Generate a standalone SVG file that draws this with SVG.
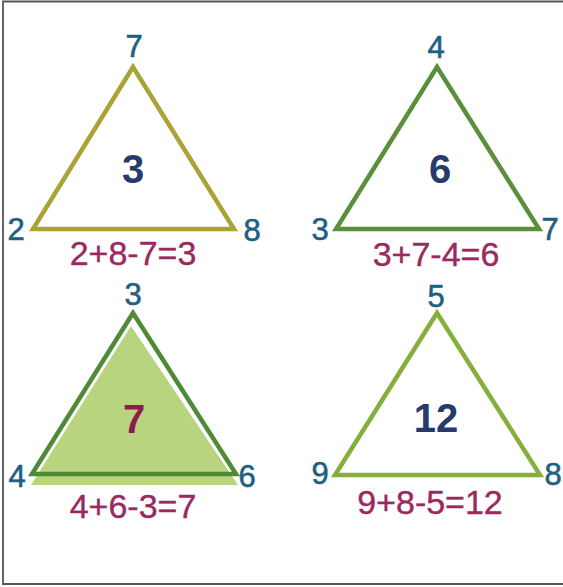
<svg xmlns="http://www.w3.org/2000/svg" width="563" height="587" viewBox="0 0 563 587">
<style>
.v{font-family:"Liberation Sans",Arial,sans-serif;font-size:31px;fill:#1f5f82;stroke:#1f5f82;stroke-width:0.6;text-anchor:middle}
.c{font-family:"Liberation Sans",Arial,sans-serif;font-size:40px;font-weight:bold;fill:#263a6c;text-anchor:middle}
.f{font-family:"Liberation Sans",Arial,sans-serif;font-size:34px;fill:#9a2a5e;stroke:#9a2a5e;stroke-width:0.4;text-anchor:middle}
.t{fill:none;stroke-width:4.5;stroke-linejoin:miter}
</style>
<rect width="563" height="587" fill="#ffffff"/>
<path d="M570,1.5 H3 V584 H570" fill="none" stroke="#555" stroke-width="1.8"/>
<g id="t1">
<polygon class="t" points="133,67 33,229 234,229" stroke="#aaa335"/>
<text class="v" x="134" y="57">7</text>
<text class="v" x="16" y="240">2</text>
<text class="v" x="252" y="241">8</text>
<text class="c" x="133" y="183">3</text>
<text class="f" x="133" y="265">2+8-7=3</text>
</g>
<g id="t2">
<polygon class="t" points="437,67 336,229 539,229" stroke="#5b8f3b"/>
<text class="v" x="436" y="58">4</text>
<text class="v" x="320" y="240">3</text>
<text class="v" x="550" y="240">7</text>
<text class="c" x="440" y="183">6</text>
<text class="f" x="436" y="266">3+7-4=6</text>
</g>
<g id="t3">
<polygon points="131,326 31,485 238,485" fill="#b8d47e"/>
<polygon class="t" points="133,313 32,474 236,474" stroke="#4f8a37"/>
<text class="v" x="133" y="305">3</text>
<text class="v" x="17" y="487">4</text>
<text class="v" x="247" y="487">6</text>
<text class="c" x="134" y="433" style="fill:#8d1c4c">7</text>
<text class="f" x="133" y="518">4+6-3=7</text>
</g>
<g id="t4">
<polygon class="t" points="437,313 335,475 540,475" stroke="#85ae3a"/>
<text class="v" x="436" y="307">5</text>
<text class="v" x="320" y="484">9</text>
<text class="v" x="553" y="485">8</text>
<text class="c" x="436" y="432">12</text>
<text class="f" x="430" y="514">9+8-5=12</text>
</g>
</svg>
